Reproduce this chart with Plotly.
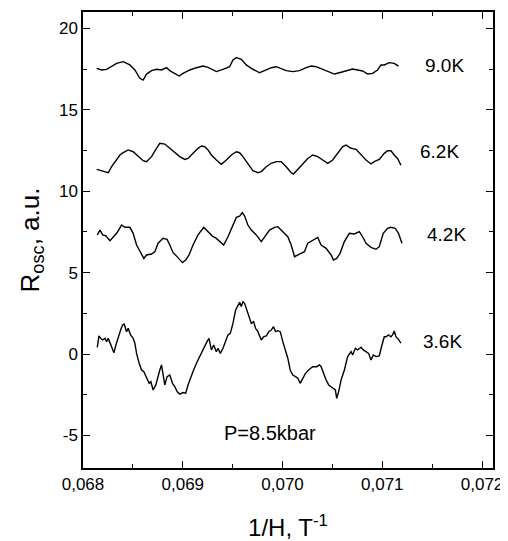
import plotly.graph_objects as go

# ---- data ----
x_90 = [0.068137, 0.068187, 0.068237, 0.068287, 0.068337, 0.068403, 0.06847, 0.06852, 0.06857, 0.068603,
        0.068637, 0.068687, 0.068737, 0.068787, 0.068837, 0.06887, 0.06892, 0.068963, 0.069003, 0.06907,
        0.069137, 0.069203, 0.069253, 0.069303, 0.069337, 0.069403, 0.06947, 0.069503, 0.069537, 0.069587,
        0.069637, 0.069687, 0.069737, 0.06977, 0.069837, 0.069887, 0.069937, 0.069987, 0.070037, 0.070103,
        0.07017, 0.070237, 0.070287, 0.070337, 0.070403, 0.07047, 0.07052, 0.07057, 0.070637, 0.070703,
        0.070753, 0.070803, 0.070853, 0.070903, 0.070953, 0.070987, 0.07102, 0.07107, 0.07112, 0.071163]
y_90 = [17.54, 17.44, 17.48, 17.64, 17.85, 17.95, 17.75, 17.44, 16.93, 16.82,
        17.19, 17.40, 17.48, 17.44, 17.58, 17.40, 17.23, 17.07, 17.23, 17.44,
        17.58, 17.68, 17.60, 17.44, 17.34, 17.48, 17.64, 18.05, 18.20, 18.09,
        17.75, 17.54, 17.40, 17.27, 17.44, 17.58, 17.64, 17.54, 17.40, 17.34,
        17.40, 17.58, 17.68, 17.64, 17.48, 17.34, 17.19, 17.27, 17.40, 17.50,
        17.44, 17.38, 17.19, 17.23, 17.44, 17.75, 17.75, 17.89, 17.85, 17.68]

x_62 = [0.068137, 0.068187, 0.068253, 0.068287, 0.06832, 0.06837, 0.068403, 0.068453, 0.068503, 0.068553,
        0.068603, 0.068637, 0.068687, 0.068737, 0.06877, 0.06882, 0.06887, 0.06892, 0.06897, 0.06902,
        0.069053, 0.069103, 0.069153, 0.069187, 0.06922, 0.069253, 0.069287, 0.069337, 0.069387, 0.069437,
        0.069487, 0.069537, 0.06957, 0.069603, 0.069653, 0.069703, 0.069753, 0.069787, 0.069837, 0.069887,
        0.069937, 0.069987, 0.070037, 0.070087, 0.07011, 0.070153, 0.070203, 0.070253, 0.070303, 0.070353,
        0.070403, 0.070453, 0.070503, 0.070553, 0.070603, 0.070637, 0.070687, 0.070737, 0.070787, 0.070837,
        0.070887, 0.07092, 0.07097, 0.07102, 0.071053, 0.071087, 0.07112, 0.071153, 0.071187]
y_62 = [11.34, 11.26, 11.13, 11.50, 11.81, 12.22, 12.36, 12.53, 12.42, 12.16,
        11.87, 11.81, 12.12, 12.63, 12.94, 12.89, 12.63, 12.32, 12.12, 11.95,
        12.01, 12.32, 12.63, 12.77, 12.73, 12.53, 12.22, 11.91, 11.65, 11.91,
        12.22, 12.42, 12.36, 12.12, 11.71, 11.26, 11.13, 11.20, 11.50, 11.71,
        11.81, 11.81, 11.50, 11.13, 11.05, 11.34, 11.71, 12.01, 12.22, 12.12,
        11.91, 11.71, 11.91, 12.32, 12.73, 12.83, 12.63, 12.57, 12.22, 11.91,
        11.67, 11.81, 11.95, 12.32, 12.48, 12.48, 12.22, 12.01, 11.60]

x_42 = [0.068143, 0.06817, 0.068197, 0.06823, 0.06827, 0.068303, 0.068337, 0.068387, 0.06842, 0.06847,
        0.068503, 0.068537, 0.06857, 0.06861, 0.068637, 0.068687, 0.06872, 0.068753, 0.068803, 0.068843,
        0.06887, 0.068903, 0.068943, 0.06897, 0.068997, 0.06903, 0.069063, 0.069103, 0.069153, 0.06921,
        0.069253, 0.069297, 0.069337, 0.069370, 0.06941, 0.069453, 0.069503, 0.069537, 0.06957, 0.069597,
        0.06962, 0.069653, 0.069687, 0.069737, 0.069787, 0.06982, 0.06987, 0.06992, 0.069953, 0.070003,
        0.070053, 0.070087, 0.07012, 0.07017, 0.07022, 0.070253, 0.070303, 0.070353, 0.070387, 0.070437,
        0.070487, 0.07051, 0.070543, 0.070577, 0.07062, 0.07067, 0.07072, 0.07077, 0.070803, 0.070837,
        0.070887, 0.070937, 0.07097, 0.07101, 0.071053, 0.071087, 0.07113, 0.071163, 0.071197]
y_42 = [7.31, 7.61, 7.31, 7.25, 6.96, 7.16, 7.41, 7.92, 7.78, 7.78,
        7.41, 6.69, 6.28, 5.87, 6.08, 6.14, 6.28, 6.80, 7.10, 7.04,
        6.69, 6.22, 5.98, 5.77, 5.61, 5.77, 6.08, 6.69, 7.31, 7.78,
        7.51, 7.24, 7.10, 6.90, 6.69, 7.20, 7.92, 8.39, 8.47, 8.68,
        8.47, 7.92, 7.61, 7.31, 6.90, 7.20, 7.61, 7.78, 7.82, 7.51,
        7.20, 6.69, 5.98, 6.14, 6.28, 6.80, 7.00, 7.16, 6.69, 6.49,
        6.08, 5.77, 5.87, 6.18, 6.90, 7.41, 7.37, 7.51, 7.20, 6.80,
        6.55, 6.43, 6.59, 7.41, 7.72, 7.78, 7.72, 7.41, 6.80]

x_36 = [0.068143, 0.06816, 0.068177, 0.068197, 0.06822, 0.068237, 0.068253, 0.068277, 0.068297, 0.06831,
        0.06833, 0.068353, 0.068377, 0.068397, 0.068413, 0.068437, 0.068453, 0.068477, 0.068503, 0.06852,
        0.068537, 0.068563, 0.068587, 0.06861, 0.068637, 0.068663, 0.06868, 0.068703, 0.06873, 0.068753,
        0.06877, 0.068787, 0.068803, 0.06882, 0.068843, 0.06887, 0.068897, 0.06892, 0.068943, 0.06897,
        0.069003, 0.06903, 0.069053, 0.06907, 0.069103, 0.069137, 0.06917, 0.069197, 0.06922, 0.069243,
        0.069263, 0.069287, 0.06931, 0.069337, 0.069353, 0.069377, 0.069403, 0.06943, 0.069453, 0.069477,
        0.069503, 0.06953, 0.069553, 0.06957, 0.069587, 0.069603, 0.06962, 0.069637, 0.069663, 0.069687,
        0.06971, 0.06973, 0.069753, 0.069787, 0.06981, 0.069837, 0.069863, 0.069887, 0.06991, 0.06993,
        0.069953, 0.069977, 0.070003, 0.07003, 0.070053, 0.070077, 0.070103, 0.07013, 0.070153, 0.070177,
        0.070203, 0.07023, 0.07027, 0.070303, 0.070343, 0.07037, 0.070387, 0.07041, 0.070437, 0.070463,
        0.070487, 0.07051, 0.07053, 0.070543, 0.070563, 0.070587, 0.07062, 0.070653, 0.070687, 0.070703,
        0.07073, 0.070753, 0.070787, 0.07081, 0.070837, 0.070863, 0.070887, 0.07091, 0.070937, 0.07097,
        0.070997, 0.07102, 0.071037, 0.071063, 0.071087, 0.071103, 0.07112, 0.071137, 0.071163, 0.071187]
y_36 = [0.41, 1.11, 0.96, 0.86, 0.96, 0.76, 0.96, 0.61, 0.25, 0.08,
        0.55, 1.06, 1.47, 1.78, 1.84, 1.37, 1.58, 1.17, 0.96, 0.66,
        0.04, -0.57, -0.98, -1.08, -1.49, -1.80, -1.70, -2.21, -1.90, -1.29,
        -0.98, -0.67, -1.19, -1.90, -1.39, -1.29, -1.80, -2.00, -2.31, -2.46,
        -2.37, -2.41, -1.90, -1.60, -1.08, -0.57, -0.16, 0.25, 0.55, 0.76,
        0.96, 0.25, 0.55, 0.14, 0.35, 0.04, 0.35, 0.76, 1.17, 1.27,
        1.88, 2.70, 3.01, 3.17, 2.91, 3.21, 3.11, 2.80, 2.29, 1.88,
        1.99, 1.58, 1.37, 0.86, 1.06, 1.11, 1.37, 1.47, 1.68, 1.37,
        1.43, 1.37, 0.76, 0.25, -0.26, -0.98, -1.29, -1.39, -1.49, -1.80,
        -1.49, -1.19, -0.94, -0.78, -0.78, -0.67, -0.78, -1.19, -1.60, -1.90,
        -2.00, -2.11, -2.21, -2.72, -2.31, -1.60, -0.98, -0.16, 0.14, -0.06,
        0.35, 0.25, 0.41, 0.25, 0.14, 0.04, -0.37, -0.06, -0.16, -0.12,
        0.55, 1.06, 1.06, 1.17, 1.06, 1.17, 1.41, 1.06, 0.90, 0.66]

curve_labels = ["9.0K", "6.2K", "4.2K", "3.6K"]
label_x = [0.07162, 0.07157, 0.07164, 0.07160]
label_y = [17.74, 12.42, 7.31, 0.76]
pressure_text = "P=8.5kbar"
pressure_x = 0.06987
pressure_y = -4.85

x_ticks = [0.068, 0.069, 0.070, 0.071, 0.072]
x_ticktext = ["0,068", "0,069", "0,070", "0,071", "0,072"]
y_ticks = [-5, 0, 5, 10, 15, 20]
y_ticktext = ["-5", "0", "5", "10", "15", "20"]

series = [(x_90, y_90), (x_62, y_62), (x_42, y_42), (x_36, y_36)]
for xs, ys in series:
    assert len(xs) == len(ys), (len(xs), len(ys))

FONT = "Liberation Sans, Arial, sans-serif"

fig = go.Figure()
for xs, ys in series:
    fig.add_trace(go.Scatter(x=xs, y=ys, mode="lines",
                             line=dict(color="black", width=1.4),
                             showlegend=False, hoverinfo="skip"))

for t, lx, ly in zip(curve_labels, label_x, label_y):
    fig.add_annotation(x=lx, y=ly, text=t, showarrow=False,
                       font=dict(family=FONT, size=19, color="black"),
                       xanchor="center", yanchor="middle")
fig.add_annotation(x=pressure_x, y=pressure_y, text=pressure_text, showarrow=False,
                   font=dict(family=FONT, size=20, color="black"),
                   xanchor="center", yanchor="middle")

axis_common = dict(showline=True, linecolor="black", linewidth=1.5, mirror="ticks",
                   ticks="inside", ticklen=7, tickwidth=1.3, tickcolor="black",
                   showgrid=False, zeroline=False, automargin=False,
                   tickfont=dict(family=FONT, size=17, color="black"))

fig.update_xaxes(range=[0.068, 0.07211], tickvals=x_ticks, ticktext=x_ticktext,
                 minor=dict(dtick=0.0005, ticks="inside", ticklen=4, tickwidth=1.2, tickcolor="black",
                            tick0=0.068),
                 title=dict(text="1/H, T<sup>-1</sup>", font=dict(family=FONT, size=24, color="black"),
                            standoff=26),
                 **axis_common)
fig.update_yaxes(range=[-7, 21], tickvals=y_ticks, ticktext=y_ticktext,
                 minor=dict(dtick=2.5, ticks="inside", ticklen=4, tickwidth=1.2, tickcolor="black",
                            tick0=0),
                 title=dict(text="R<sub>osc</sub>, a.u.", font=dict(family=FONT, size=26, color="black"),
                            standoff=12),
                 **axis_common)

# the page body adds an 8 px offset, so the figure is sized/margined to compensate
fig.update_layout(width=500, height=533,
                  margin=dict(l=75, r=15, t=4, b=73),
                  paper_bgcolor="white", plot_bgcolor="white")

fig.write_html("out.html")
